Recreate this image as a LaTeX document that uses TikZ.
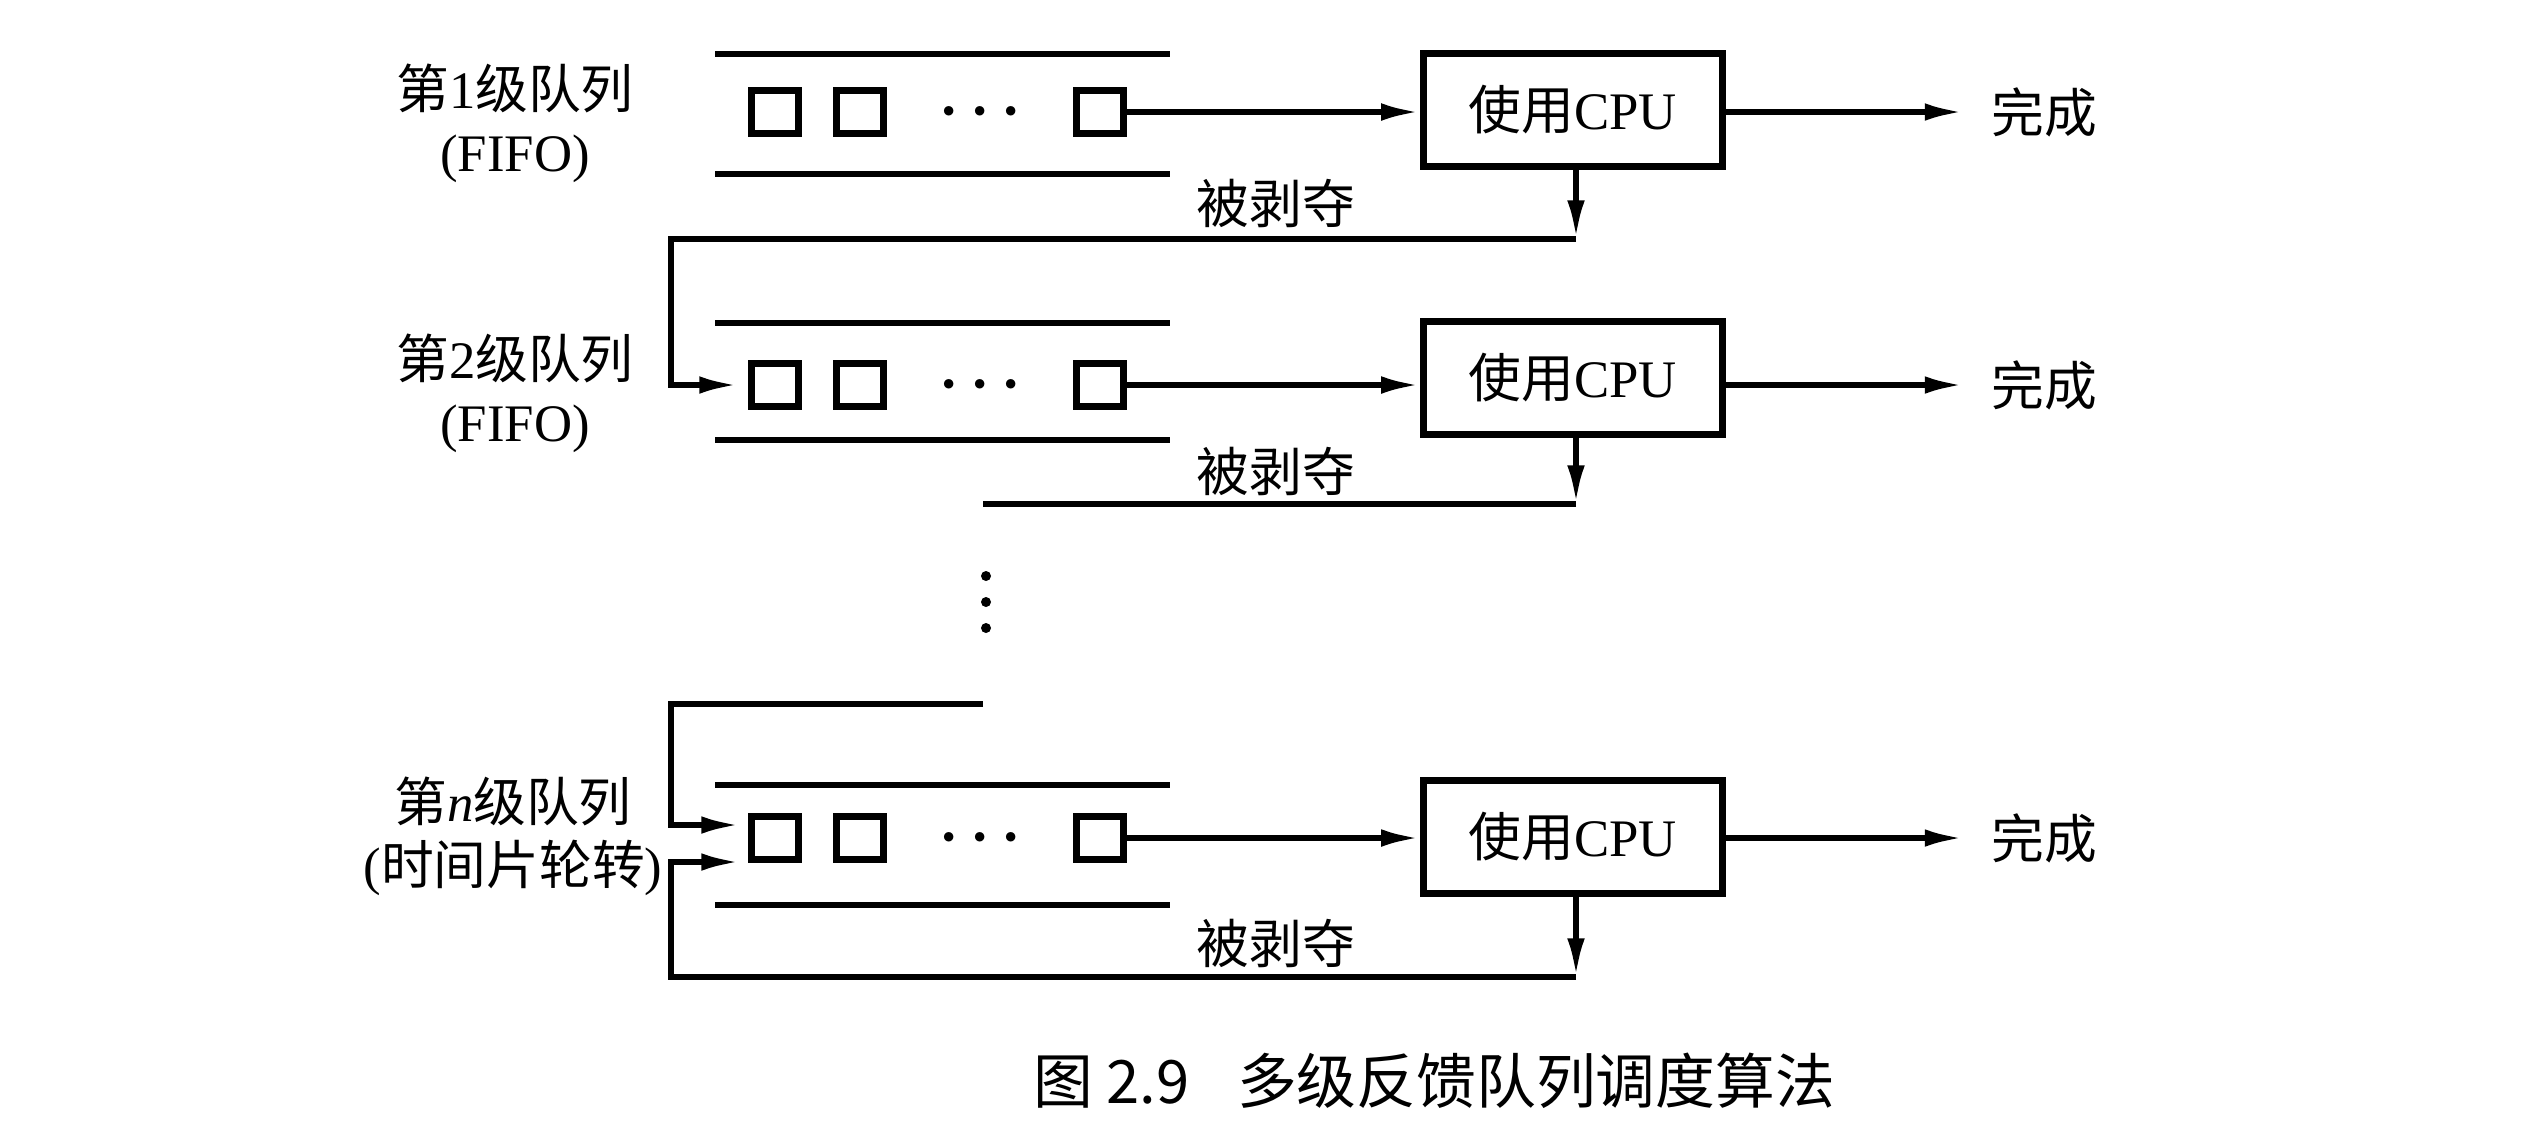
\documentclass[tikz,border=0pt]{standalone}
\usepackage{fontspec}
\setmainfont{Liberation Serif}
\newfontfamily\zhfont{Noto Sans CJK SC}
\usetikzlibrary{arrows.meta}
\newcommand{\zh}[1]{{\zhfont #1}}
\tikzset{arr/.style = {-{Latex[length=11pt,width=5pt]}}}
\tikzset{job/.style = {draw, line width=2pt, minimum width=0.47cm,
                       minimum height=0.43cm, inner sep=0}}
\tikzset{cpu/.style = {draw, line width=2pt, minimum width=2.99cm,
                       minimum height=1.13cm, font=\fontsize{15}{18}\selectfont}}
\tikzset{lbl/.style = {font=\fontsize{15}{18}\selectfont, align=center, inner sep=0}}
\tikzset{dots/.style = {font=\fontsize{18}{18}\selectfont\boldmath, inner sep=0}}
\tikzset{
  every picture/.style={
    every path/.style={line width=1.6pt},
  }
}
\begin{document}
\begin{tikzpicture}[x=0.01cm, y=-0.01cm]
  \useasboundingbox (0,0) rectangle (2548,1138);
  % level 1
  \node[lbl] (l1) at (515,123) {\zh{第}1\zh{级队列}\\(FIFO)};
  \draw (715,54) -- (1170,54);
  \draw (715,174) -- (1170,174);
  \node[job] (a1) at (775,112) {};
  \node[job] (b1) at (860,112) {};
  \node[dots] (d1) at (980,112) {$\cdots$};
  \node[job] (c1) at (1100,112) {};
  \node[cpu] (cpu1) at (1573,110) {\zh{使用}CPU};
  \node[lbl] (f1) at (2044,112) {\zh{完成}};
  \node[lbl] (p1) at (1276,203) {\zh{被剥夺}};
  \coordinate (r1) at (1576,239);
  \coordinate (k1) at (671,239);
  \draw[arr] (c1) -- (c1 -| cpu1.west);
  \draw[arr, shorten >=0.25cm] (c1 -| cpu1.east) -- (f1.west);
  \draw[arr] (cpu1.south -| r1) -- (r1);
  % level 2
  \node[lbl] (l2) at (515,393) {\zh{第}2\zh{级队列}\\(FIFO)};
  \draw (715,323) -- (1170,323);
  \draw (715,440) -- (1170,440);
  \node[job] (a2) at (775,385) {};
  \node[job] (b2) at (860,385) {};
  \node[dots] (d2) at (980,385) {$\cdots$};
  \node[job] (c2) at (1100,385) {};
  \node[cpu] (cpu2) at (1573,378) {\zh{使用}CPU};
  \node[lbl] (f2) at (2044,385) {\zh{完成}};
  \node[lbl] (p2) at (1276,471) {\zh{被剥夺}};
  \coordinate (r2) at (1576,504);
  \coordinate (k2) at (983,504);
  \draw[arr, shorten >=0.1cm] (r1) -- (k1) |- (a2.west);
  \draw[arr] (c2) -- (c2 -| cpu2.west);
  \draw[arr, shorten >=0.25cm] (c2 -| cpu2.east) -- (f2.west);
  \draw[arr] (cpu2.south -| r2) -- (r2);
  \draw (r2) -- (k2);
  \foreach \y in {576,602,628}
    \fill (986,\y) circle (0.05cm);
  % level n
  \coordinate (t3) at (983,704);
  \coordinate (k3) at (671,704);
  \node[lbl] (l3) at (513,836) {\zh{第}\textit{n}\zh{级队列}\\(\zh{时间片轮转})};
  \draw (715,785) -- (1170,785);
  \draw (715,905) -- (1170,905);
  \node[job] (a3) at (775,838) {};
  \node[job] (b3) at (860,838) {};
  \node[dots] (d3) at (980,838) {$\cdots$};
  \node[job] (c3) at (1100,838) {};
  \node[cpu] (cpu3) at (1573,837) {\zh{使用}CPU};
  \node[lbl] (f3) at (2044,838) {\zh{完成}};
  \node[lbl] (p3) at (1276,943) {\zh{被剥夺}};
  \coordinate (r3) at (1576,977);
  \coordinate (m3) at (671,977);
  \coordinate (e1) at (750,825);
  \coordinate (e2) at (750,862);
  \draw[arr] (c3) -- (c3 -| cpu3.west);
  \draw[arr, shorten >=0.25cm] (c3 -| cpu3.east) -- (f3.west);
  \draw[arr] (cpu3.south -| r3) -- (r3);
  \draw[arr, shorten >=0.1cm] (t3) -- (k3) |- (e1);
  \draw[arr, shorten >=0.1cm] (r3) -- (m3) |- (e2);
  % caption
  \node[font=\fontsize{17}{20}\selectfont\zhfont, inner sep=0] (cap) at (1434,1081)
    {图 2.9\hspace{0.8em}多级反馈队列调度算法};
\end{tikzpicture}
\end{document}
